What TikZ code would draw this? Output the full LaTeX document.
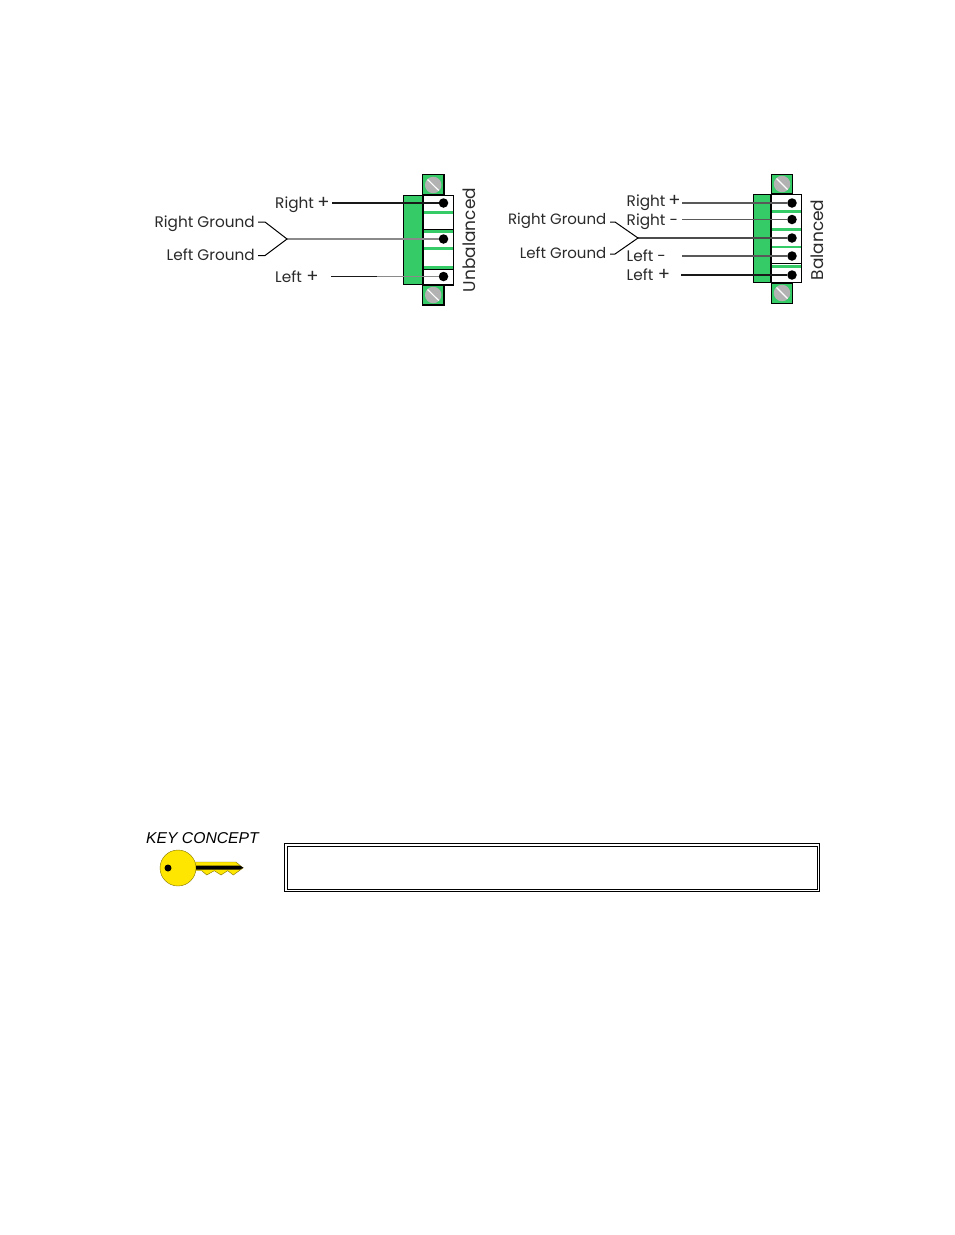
\documentclass[tikz,border=0pt]{standalone}
\usepackage{fontspec}
\setmainfont{Poppins}
\newfontfamily\keyfont{Liberation Sans}
\definecolor{conn}{HTML}{35CB66}
\definecolor{keyy}{HTML}{FFE600}
\definecolor{wiregray}{HTML}{8A8A8A}
\definecolor{inkt}{HTML}{2A2A2A}
\newcommand{\bigplus}{\raisebox{-0.4pt}{\fontsize{18}{18}\selectfont +}}
\tikzset{
  lbl/.style={inner sep=0pt,font=\fontsize{15.3}{15.3}\selectfont,text=inkt},
  lble/.style={lbl,anchor=base east},
  lblw/.style={lbl,anchor=base west},
  body/.style={draw=black,line width=1.3pt,fill=conn},
  tabbox/.style={draw=black,line width=1.3pt,fill=conn},
  pin/.style={circle,fill=black,inner sep=0pt,minimum size=9.5pt},
  screwhead/.style={circle,fill=black!30,inner sep=0pt,minimum size=16.5pt},
  wire/.style={line width=1.1pt,draw=black!90},
  gwire/.style={line width=1.1pt,draw=wiregray},
  arm/.style={line width=1pt,draw=black,line join=miter},
}
\begin{document}
\begin{tikzpicture}[x=1pt,y=-1pt]
\useasboundingbox (0,0) rectangle (954,1235);
\fill[white] (0,0) rectangle (954,1235);
% ---------- Unbalanced connector
\draw[tabbox] (422.5,174.5) rectangle (444,195);
\draw[tabbox] (422.5,285) rectangle (444,305);
\node[screwhead] (us1) at (433.2,185) {};
\node[screwhead] (us2) at (433.2,295) {};
\draw[white,line width=1.1pt] (427.5,179.5) -- (438.8,190.5);
\draw[white,line width=1.1pt] (427.5,289.5) -- (438.8,300.5);
\draw[line width=1.3pt,fill=white] (423,195.5) rectangle (453.5,285);
\fill[conn] (423,210.5) rectangle (453,213.5);
\fill[conn] (423,230) rectangle (453,232.5);
\fill[conn] (423,247) rectangle (453,250);
\fill[conn] (423,265.5) rectangle (453,269);
\draw[black,line width=1.2pt] (423,229.3) -- (453,229.3);
\draw[black,line width=1.2pt] (423,269.5) -- (453,269.5);
\draw[body] (403.5,195.5) rectangle (423,284.5);
\node[pin] (ua) at (443.5,203) {};
\node[pin] (ub) at (443.5,239) {};
\node[pin] (uc) at (443.5,276.5) {};
\coordinate (uaf) at (332,203);
\coordinate (ucf) at (331,276.5);
\coordinate (ucm) at (377,276.5);
\coordinate (uj) at (287,239);
\coordinate (ua1) at (258,222);
\coordinate (ua2) at (265,222);
\coordinate (ub1) at (258,255.5);
\coordinate (ub2) at (265,255.5);
\draw[wire] (uaf) -- (ua);
\draw[gwire] (uj) -- (ub);
\draw[gwire] (ucm) -- (uc);
\draw[wire] (ucf) -- (ucm);
\draw[arm] (ua1) -- (ua2) -- (uj) -- (ub2) -- (ub1);
\node[lble] (ut1) at (255,227) {Right Ground};
\node[lble] (ut2) at (255,260) {Left Ground};
\node[lblw] (ut3) at (275,208) {Right\hspace{3.5pt}\bigplus};
\node[lblw] (ut4) at (275,282) {Left\hspace{4.5pt}\bigplus};
\node[lbl,rotate=90,anchor=base,font=\fontsize{17}{17}\selectfont] (ut5) at (475,240) {Unbalanced};
% ---------- Balanced connector
\draw[tabbox] (771.5,174.5) rectangle (792.8,194);
\draw[tabbox] (771.5,283) rectangle (792.8,303.5);
\node[screwhead] (bs1) at (782,184) {};
\node[screwhead] (bs2) at (782,293) {};
\draw[white,line width=1.1pt] (776.5,178.5) -- (787.5,189.5);
\draw[white,line width=1.1pt] (776.5,287.5) -- (787.5,298.5);
\draw[line width=1.3pt,fill=white] (771,194.5) rectangle (801.5,282.5);
\fill[conn] (771,209.5) rectangle (801,213);
\fill[conn] (771,228) rectangle (801,231);
\fill[conn] (771,245.5) rectangle (801,248);
\fill[conn] (771,264.5) rectangle (801,267.5);
\draw[black,line width=1.1pt] (771,263.8) -- (801,263.8);
\draw[body] (753.5,194.5) rectangle (771,282.5);
\node[pin] (ba) at (792,203) {};
\node[pin] (bb) at (792,219.5) {};
\node[pin] (bc) at (792,238) {};
\node[pin] (bd) at (792,256) {};
\node[pin] (be) at (792,275) {};
\coordinate (baf) at (682,203);
\coordinate (bbf) at (682,219.5);
\coordinate (bdf) at (682,256);
\coordinate (bef) at (681,275);
\coordinate (bj) at (638,238);
\coordinate (ba1) at (610,222);
\coordinate (ba2) at (615,222);
\coordinate (bb1) at (610,254);
\coordinate (bb2) at (615,254);
\draw[gwire,draw=black!65] (baf) -- (ba);
\draw[gwire,draw=black!65] (bbf) -- (bb);
\draw[wire,line width=1.3pt,draw=black!70] (bj) -- (bc);
\draw[gwire,draw=black!65] (bdf) -- (bd);
\draw[wire] (bef) -- (be);
\draw[arm] (ba1) -- (ba2) -- (bj) -- (bb2) -- (bb1);
\node[lble,font=\fontsize{15}{15}\selectfont] (bt1) at (606.5,224) {Right Ground};
\node[lble,font=\fontsize{15}{15}\selectfont] (bt2) at (606.5,258.5) {Left Ground};
\node[lblw] (bt3) at (626.5,206.5) {Right\hspace{3pt}\bigplus};
\node[lblw] (bt4) at (626.5,225) {Right -};
\node[lblw] (bt5) at (626.5,261) {Left -};
\node[lblw] (bt6) at (626.5,280.5) {Left\hspace{4.5pt}\bigplus};
\node[lbl,rotate=90,anchor=base,font=\fontsize{17}{17}\selectfont] (bt7) at (823,240) {Balanced};
% ---------- Key concept
\node[inner sep=0pt,anchor=base west,font=\keyfont\itshape\fontsize{15.7}{15.7}\selectfont] (kc) at (146,843.5) {KEY CONCEPT};
\draw[draw=black!50!keyy,line width=0.4pt,fill=keyy] (194,862) -- (236,862) -- (243,868) -- (233.3,875) -- (227.7,870.7) -- (221,875) -- (214.3,870.7) -- (206.7,875) -- (201.7,870.7) -- (194,870.7) -- cycle;
\node[circle,draw=black!50!keyy,line width=0.4pt,fill=keyy,inner sep=0pt,minimum size=36pt] (khead) at (178,868) {};
\fill[black] (196,865.7) -- (240,865.7) -- (243.5,867.7) -- (240,869.5) -- (196,869.5) -- cycle;
\node[circle,fill=black,inner sep=0pt,minimum size=7pt] (khole) at (168,868) {};
\node[draw=black,line width=0.9pt,inner sep=0pt,minimum width=535pt,minimum height=48pt,anchor=north west] (kbo) at (284.2,843.3) {};
\node[draw=black,line width=0.9pt,inner sep=0pt,minimum width=530pt,minimum height=43pt,anchor=north west] (kbi) at (286.7,845.8) {};
\end{tikzpicture}
\end{document}
